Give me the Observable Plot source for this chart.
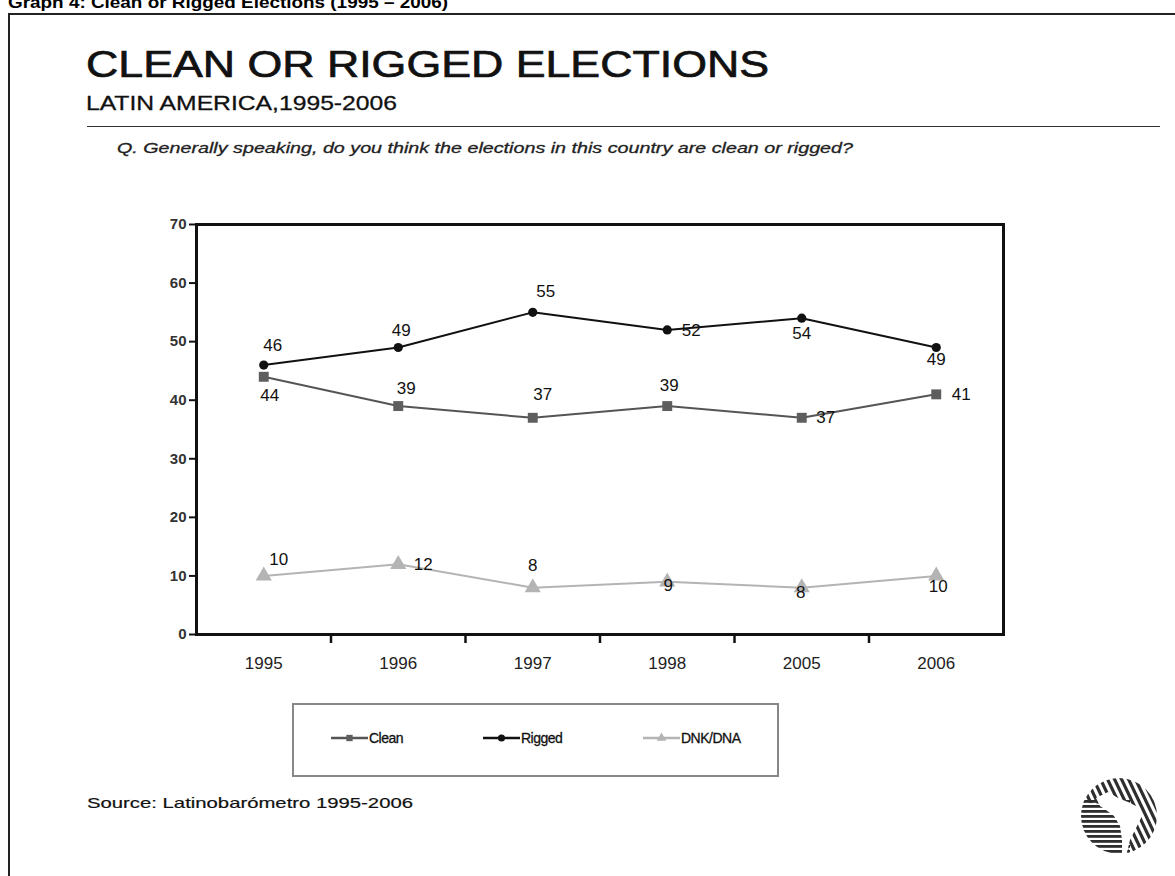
<!DOCTYPE html>
<html>
<head>
<meta charset="utf-8">
<script src="https://cdn.jsdelivr.net/npm/d3@7"></script>
<script src="https://cdn.jsdelivr.net/npm/@observablehq/plot@0.6"></script>
<style>
  html, body { margin: 0; padding: 0; background: #fff; }
  body { width: 1175px; height: 876px; position: relative; overflow: hidden; font-family: "Liberation Sans", Arial, sans-serif; color: #111; }
  .abs { position: absolute; white-space: nowrap; }
  .wide { transform-origin: left top; }
  #header { left: 8px; top: -7px; font-size: 17px; font-weight: bold; color: #000; }
  #frame { left: 8px; top: 13px; width: 1300px; height: 1000px; border: 2px solid #222; box-sizing: border-box; }
  #title { left: 86px; top: 44px; font-size: 37px; color: #111; -webkit-text-stroke: 0.7px #111; }
  #subtitle { left: 86px; top: 91px; font-size: 21px; color: #111; -webkit-text-stroke: 0.3px #111; }
  #rule { left: 87px; top: 126px; width: 1073px; height: 0; border-top: 1.5px solid #333; }
  #question { left: 117px; top: 139px; font-size: 15px; font-style: italic; color: #222; -webkit-text-stroke: 0.3px #222; }
  #chart { left: 0; top: 180px; }
  #chart g[aria-label="y-axis tick label"] { font-size: 15px; font-weight: 600; }
  #legend { left: 292px; top: 703px; width: 487px; height: 74px; border: 2px solid #888; box-sizing: border-box; }
  #source { left: 87px; top: 794px; font-size: 15px; color: #111; -webkit-text-stroke: 0.2px #111; }
  #logo { left: 1078px; top: 776px; }
</style>
</head>
<body>
<div id="header" class="abs wide">Graph 4: Clean or Rigged Elections (1995 – 2006)</div>
<div id="frame" class="abs"></div>
<div id="title" class="abs wide">CLEAN OR RIGGED ELECTIONS</div>
<div id="subtitle" class="abs wide">LATIN AMERICA,1995-2006</div>
<div id="rule" class="abs"></div>
<div id="question" class="abs wide">Q. Generally speaking, do you think the elections in this country are clean or rigged?</div>
<div id="chart" class="abs"></div>
<div id="legend" class="abs"></div>
<div id="source" class="abs wide">Source: Latinobarómetro 1995-2006</div>
<svg id="logo" class="abs" width="84" height="82" viewBox="0 0 84 82"></svg>
<script>
// Survey years (categories) and percentages per answer
const years = ["1995", "1996", "1997", "1998", "2005", "2006"];
const clean = [44, 39, 37, 39, 37, 41];
const rigged = [46, 49, 55, 52, 54, 49];
const dnk = [10, 12, 8, 9, 8, 10];
const yTicks = [0, 10, 20, 30, 40, 50, 60, 70];

// Value-label nudges [dx, dy] in pixels, one per point, so labels clear the lines
const cleanLabelNudge = [[6, 19], [8, -18], [10, -23], [2, -21], [24, 0], [25, 0]];
const riggedLabelNudge = [[9, -20], [3, -17], [13, -21], [24, 1], [0, 15], [0, 12]];
const dnkLabelNudge = [[15, -16], [25, 0], [0, -22], [1, 4], [-1, 5], [2, 11]];

// Stretch a text block horizontally to its set width
function stretch(id, width) {
  const el = document.getElementById(id);
  const w = el.getBoundingClientRect().width;
  el.style.transform = `scaleX(${width / w})`;
}
stretch("header", 440);
stretch("title", 683);
stretch("subtitle", 311);
stretch("question", 736);
stretch("source", 326);

const seriesStyle = {
  Clean: {color: "#555", marker: "#5e5e5e", symbol: "square", r: 5.6},
  Rigged: {color: "#111", marker: "#111", symbol: "circle", r: 4.6},
  "DNK/DNA": {color: "#b4b4b4", marker: "#b4b4b4", symbol: "triangle", r: 6}
};

const rows = [];
[["Clean", clean, cleanLabelNudge], ["Rigged", rigged, riggedLabelNudge], ["DNK/DNA", dnk, dnkLabelNudge]]
  .forEach(([name, vals, nudge]) => vals.forEach((v, i) => rows.push({series: name, i, year: years[i], value: v, nudge: nudge[i]})));

const labelFont = {fontSize: 17, fill: "#111", fontFamily: "Liberation Sans, Arial, sans-serif"};

const marks = [];
for (const name of Object.keys(seriesStyle)) {
  const s = seriesStyle[name];
  const data = rows.filter(d => d.series === name);
  marks.push(Plot.line(data, {x: "i", y: "value", stroke: s.color, strokeWidth: 2}));
  marks.push(Plot.dot(data, {x: "i", y: "value", symbol: () => s.symbol, fill: s.marker, stroke: "none", r: s.r}));
}
// one text mark per value label, since each has its own nudge
for (const d of rows) {
  marks.push(Plot.text([d], {x: "i", y: "value", text: d => String(d.value), dx: d.nudge[0], dy: d.nudge[1], ...labelFont}));
}

const chart = Plot.plot({
  width: 1040,
  height: 514,
  marginLeft: 196,
  marginRight: 37,
  marginTop: 44,
  marginBottom: 60,
  x: {type: "linear", domain: [-0.5, years.length - 0.5], label: null},
  y: {domain: [0, 70], label: null},
  style: {fontFamily: "Liberation Sans, Arial, sans-serif", background: "transparent"},
  marks: [
    // y ticks and labels
    Plot.axisY({ticks: yTicks, tickSize: 7, tickPadding: 3, strokeWidth: 2, fontSize: 15, fill: "#333", stroke: "#111", label: null}),
    // tick marks between categories
    Plot.axisX({ticks: d3.range(years.length - 1).map(i => i + 0.5), tickSize: 9, strokeWidth: 2.5, stroke: "#111", tickFormat: () => "", label: null}),
    // category labels
    Plot.axisX({ticks: d3.range(years.length), tickSize: 0, tickPadding: 22, tickFormat: i => years[i], fontSize: 17, fill: "#222", label: null}),
    ...marks,
    Plot.frame({stroke: "#111", strokeWidth: 3})
  ]
});
document.getElementById("chart").appendChild(chart);

// Legend with line-and-marker swatches
const legend = d3.select("#legend");
const items = [
  {name: "Clean", x: 37},
  {name: "Rigged", x: 189},
  {name: "DNK/DNA", x: 349}
];
items.forEach(it => {
  const s = seriesStyle[it.name];
  const g = legend.append("div").style("position", "absolute").style("left", it.x + "px").style("top", "25px")
    .style("display", "flex").style("align-items", "center");
  const svg = g.append("svg").attr("width", 37).attr("height", 12);
  svg.append("line").attr("x1", 0).attr("x2", 37).attr("y1", 6).attr("y2", 6).attr("stroke", s.color).attr("stroke-width", 2.5);
  svg.append("path").attr("transform", "translate(18.5,6)")
    .attr("d", d3.symbol(s.symbol === "square" ? d3.symbolSquare : s.symbol === "circle" ? d3.symbolCircle : d3.symbolTriangle, 40)())
    .attr("fill", s.marker);
  g.append("span").text(it.name).style("font-size", "14px").style("letter-spacing", "-0.5px").style("margin-left", "1px")
    .style("color", "#111").style("-webkit-text-stroke", "0.3px #111");
});

// Striped globe emblem
const logo = d3.select("#logo");
const defs = logo.append("defs");
defs.append("clipPath").attr("id", "globe").append("circle").attr("cx", 41).attr("cy", 40).attr("r", 38);
defs.append("clipPath").attr("id", "upper").append("path").attr("d", "M0,0 L84,0 L84,82 L50,82 L52,30 L0,26 Z");
const gl = logo.append("g").attr("clip-path", "url(#globe)");
// horizontal bands on the lower left
for (let k = 0; k < 12; k++) {
  gl.append("rect").attr("x", 0).attr("y", 24 + k * 5).attr("width", 52).attr("height", 2.8).attr("fill", "#2e2e2e");
}
// slanted bands across the top and right
const up = gl.append("g").attr("clip-path", "url(#upper)");
for (let k = -4; k < 14; k++) {
  up.append("line").attr("x1", k * 7).attr("y1", 0).attr("x2", k * 7 + 40).attr("y2", 84)
    .attr("stroke", "#2e2e2e").attr("stroke-width", 3.2);
}
// white continent silhouette
gl.append("path").attr("d", "M18,22 L30,16 L40,22 L50,26 L62,32 L64,40 L58,52 L52,64 L48,80 L44,80 L44,64 L42,50 L36,40 L28,34 L22,30 Z").attr("fill", "#fff");
</script>
</body>
</html>
